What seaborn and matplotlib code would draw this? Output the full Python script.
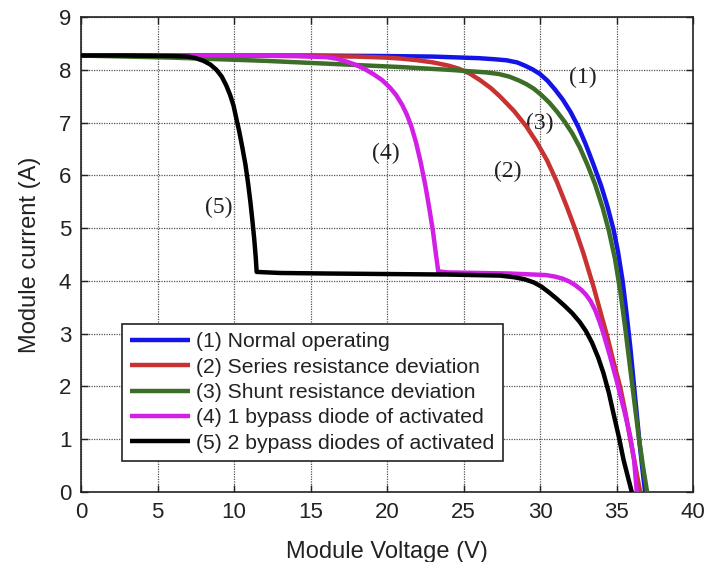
import matplotlib
matplotlib.use("Agg")
import matplotlib.pyplot as plt
import seaborn as sns
import pandas as pd

# I-V curves of a PV module under different operating conditions
v_normal = [0, 5, 10, 15, 20, 23, 25, 26.0, 27.0, 27.8, 28.5, 29.0, 29.5, 30.0, 30.5, 31.0, 31.5,
            32.0, 32.5, 33.0, 33.5, 34.0, 34.4, 34.8, 35.1, 35.4, 35.65, 35.9, 36.1, 36.3, 36.5, 36.7, 36.87]
i_normal = [8.27, 8.27, 8.27, 8.27, 8.26, 8.25, 8.23, 8.22, 8.20, 8.18, 8.14, 8.08, 8.01, 7.92, 7.79, 7.62, 7.43,
            7.20, 6.92, 6.58, 6.20, 5.80, 5.42, 4.98, 4.55, 4.00, 3.40, 2.75, 2.15, 1.55, 0.95, 0.42, 0.0]

v_series = [0, 5, 10, 15, 18, 20, 21, 22, 23, 24, 24.7, 25.4, 26.1, 26.8, 27.4, 28.3, 29.1, 29.8,
            30.45, 31.1, 31.76, 32.3, 32.84, 33.5, 34.0, 34.4, 34.8, 35.24, 35.6, 35.9, 36.15, 36.35, 36.55]
i_series = [8.27, 8.27, 8.27, 8.26, 8.25, 8.23, 8.21, 8.18, 8.14, 8.08, 8.02, 7.93, 7.80, 7.65, 7.49, 7.22, 6.93, 6.62,
            6.29, 5.88, 5.40, 4.98, 4.52, 3.89, 3.36, 2.94, 2.47, 1.99, 1.48, 1.00, 0.62, 0.30, 0.0]

v_shunt = [0, 3, 6, 9, 12, 15, 18, 21, 24, 25.5, 26.5, 27.3, 28.0, 28.6, 29.1, 29.6, 30.1, 30.6, 31.1,
           31.6, 32.1, 32.6, 33.1, 33.6, 34.1, 34.5, 34.9, 35.25, 35.55, 35.85, 36.15, 36.45, 36.75, 37.0]
i_shunt = [8.27, 8.25, 8.23, 8.20, 8.17, 8.13, 8.09, 8.05, 8.00, 7.97, 7.95, 7.92, 7.87, 7.80, 7.73, 7.64, 7.52, 7.38, 7.21,
           7.02, 6.80, 6.53, 6.20, 5.83, 5.38, 4.95, 4.42, 3.80, 3.15, 2.45, 1.75, 1.05, 0.45, 0.0]

v_bypass1 = [0, 5, 10, 14, 16, 16.7, 17.3, 17.9, 18.5, 19.1, 19.7, 20.2, 20.6, 21.0, 21.3, 21.6, 21.9,
             22.2, 22.5, 22.75, 23.0, 23.2, 23.35, 24, 26, 28, 29.6, 30.4, 31.0, 31.5, 31.9, 32.3, 32.7,
             33.0, 33.3, 33.6, 33.9, 34.15, 34.6, 35.0, 35.5, 35.9, 36.15, 36.33]
i_bypass1 = [8.27, 8.27, 8.27, 8.26, 8.24, 8.21, 8.16, 8.10, 8.02, 7.92, 7.80, 7.66, 7.52, 7.33, 7.15, 6.92, 6.62,
             6.25, 5.82, 5.40, 4.95, 4.50, 4.18, 4.16, 4.15, 4.14, 4.12, 4.11, 4.08, 4.04, 3.99, 3.92, 3.83,
             3.74, 3.62, 3.45, 3.22, 3.00, 2.55, 2.12, 1.55, 1.05, 0.60, 0.0]

v_bypass2 = [0, 3, 6, 7.0, 7.5, 8.0, 8.45, 8.85, 9.2, 9.5, 9.75, 9.97, 10.15, 10.35, 10.55, 10.75, 10.92,
             11.07, 11.2, 11.32, 11.42, 11.48, 13, 16, 20, 24, 27.4, 28.3, 29.0, 29.6, 30.1, 30.6, 31.1,
             31.6, 32.1, 32.6, 33.0, 33.4, 33.8, 34.15, 34.5, 34.8, 35.15, 35.46, 35.75, 36.0]
i_bypass2 = [8.27, 8.27, 8.26, 8.25, 8.22, 8.17, 8.10, 8.00, 7.87, 7.70, 7.52, 7.32, 7.08, 6.82, 6.52, 6.20, 5.85,
             5.50, 5.15, 4.80, 4.45, 4.17, 4.15, 4.14, 4.13, 4.12, 4.10, 4.07, 4.03, 3.97, 3.89, 3.78, 3.66,
             3.53, 3.39, 3.22, 3.05, 2.83, 2.55, 2.25, 1.88, 1.49, 1.05, 0.61, 0.28, 0.0]

labels = ["(1) Normal operating", "(2) Series resistance deviation", "(3) Shunt resistance deviation",
          "(4) 1 bypass diode of activated", "(5) 2 bypass diodes of activated"]
colors = ["#1414e6", "#c83232", "#3c6e28", "#d21ee6", "#000000"]

# curve tags and where they sit (V, A)
tags = ["(1)", "(2)", "(3)", "(4)", "(5)"]
tag_v = [32.8, 27.9, 30.0, 19.9, 9.0]
tag_i = [7.85, 6.07, 6.98, 6.41, 5.40]

x_ticks = [0, 5, 10, 15, 20, 25, 30, 35, 40]
y_ticks = [0, 1, 2, 3, 4, 5, 6, 7, 8, 9]

sns.set_style("ticks")
plt.rcParams["font.family"] = ["Liberation Sans", "DejaVu Sans"]

fig = plt.figure(figsize=(7.1, 5.62), dpi=100)
ax = fig.add_axes([81 / 710, 1 - 492 / 562, (693 - 81) / 710, (492 - 17) / 562])

series = [(v_normal, i_normal), (v_series, i_series), (v_shunt, i_shunt),
          (v_bypass1, i_bypass1), (v_bypass2, i_bypass2)]
for (v, i), lab, col in zip(series, labels, colors):
    df = pd.DataFrame({"V": v, "I": i})
    sns.lineplot(data=df, x="V", y="I", color=col, label=lab, ax=ax,
                 estimator=None, sort=False, linewidth=3.2, zorder=3,
                 solid_joinstyle="round", solid_capstyle="butt")

for t, tv, ti in zip(tags, tag_v, tag_i):
    ax.text(tv, ti, t, ha="center", va="center", fontsize=17,
            family=["Liberation Serif", "DejaVu Serif"], color="#222222", zorder=2)

ax.set_xlim(0, 40)
ax.set_ylim(0, 9)
ax.set_xticks(x_ticks)
ax.set_yticks(y_ticks)
ax.grid(True, linestyle=(0, (1, 1)), color="#555555", linewidth=0.9)
ax.tick_params(direction="in", length=5, width=1, top=True, right=True,
               labelsize=16, pad=7, colors="#222222")
for s in ax.spines.values():
    s.set_color("#222222")
    s.set_linewidth(1.2)

ax.set_xlabel("Module Voltage (V)", fontsize=17, color="#222222", labelpad=13)
ax.set_ylabel("Module current (A)", fontsize=17, color="#222222", labelpad=13)

leg = ax.legend(loc="lower left", bbox_to_anchor=(0.067, 0.065), borderaxespad=0,
                fontsize=15.2, frameon=True, fancybox=False, framealpha=1,
                edgecolor="#222222", handlelength=2.8, handletextpad=0.3,
                labelspacing=0.3, borderpad=0.4)
leg.get_frame().set_linewidth(1.2)
for line in leg.get_lines():
    line.set_linewidth(3.2)
for txt in leg.get_texts():
    txt.set_color("#222222")

fig.savefig("out.png", dpi=100)
